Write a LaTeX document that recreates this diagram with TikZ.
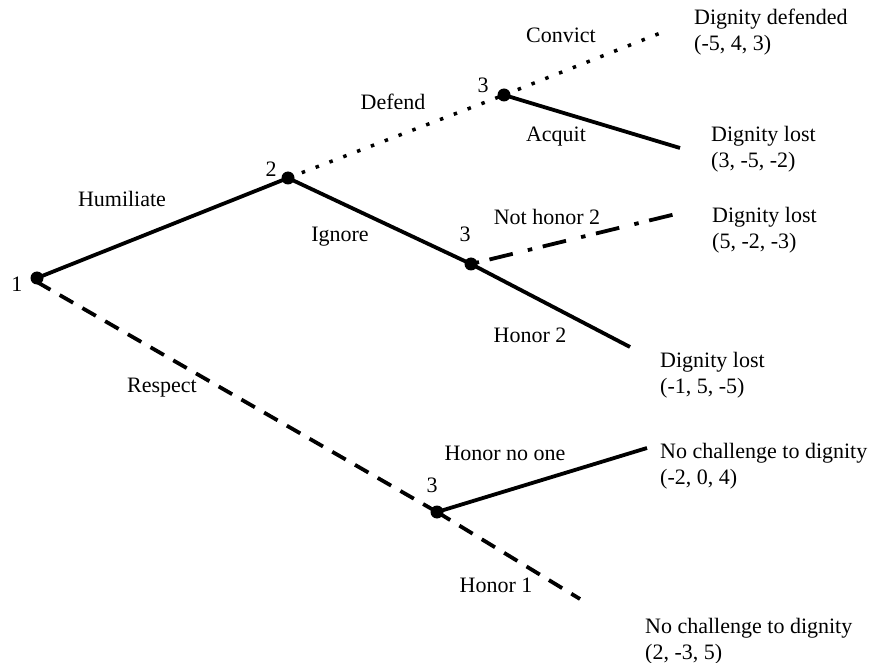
\documentclass[tikz,border=0pt]{standalone}
\usepackage{fontspec}
\setmainfont{Liberation Serif}
\newcommand\twoline[2]{\begin{tabular}[t]{@{}l@{}}#1\\#2\end{tabular}}
\begin{document}
\begin{tikzpicture}[x=1pt,y=-1pt,
  lbl/.style={font=\fontsize{22}{26}\selectfont, inner sep=0pt, anchor=base},
  term/.style={font=\fontsize{22}{26}\selectfont, inner sep=0pt, anchor=base west},
  dotnode/.style={circle,fill=black,inner sep=0pt,minimum size=13pt},
  solidedge/.style={line width=3.8pt},
  dottededge/.style={line width=3.5pt, dash pattern=on 3.5pt off 11.3pt},
  dashededge/.style={line width=3.8pt, dash pattern=on 15.5pt off 10.7pt},
  dashdotedge/.style={line width=3.8pt, dash pattern=on 24pt off 15.5pt on 4.5pt off 10.8pt, dash phase=35.8pt}]
\useasboundingbox (0,0) rectangle (871,663);
% decision nodes
\node[dotnode] (n1) at (37,278) {};
\node[dotnode] (n2) at (288,178) {};
\node[dotnode] (n3a) at (504,95) {};
\node[dotnode] (n3b) at (471,264) {};
\node[dotnode] (n3c) at (437,512) {};
% free ends
\coordinate (eConvict) at (663,32);
\coordinate (eAcquit) at (680,148);
\coordinate (eNotHonor) at (680,213);
\coordinate (eHonor2) at (630,347);
\coordinate (eNoOne) at (647,448);
\coordinate (eHonor1) at (580,599);
% edges
\draw[solidedge] (n1.center) -- (n2.center);
\draw[dottededge] (n2.center) -- (n3a.center);
\draw[dottededge] (n3a.center) -- (eConvict);
\draw[solidedge] (n3a.center) -- (eAcquit);
\draw[solidedge] (n2.center) -- (n3b.center) -- (eHonor2);
\draw[dashdotedge] (n3b.center) -- (eNotHonor);
\draw[dashededge] ([yshift=-4pt]n1.center) -- (n3c.center);
\draw[solidedge] (n3c.center) -- (eNoOne);
\draw[dashededge] (n3c.center) -- (eHonor1);
% player labels
\node[lbl] (l1) at (17,292) {1};
\node[lbl] (l2) at (271,177) {2};
\node[lbl] (l3a) at (483,93) {3};
\node[lbl] (l3b) at (465,242) {3};
\node[lbl] (l3c) at (432,492) {3};
% action labels
\node[lbl] (tHum) at (122,207) {Humiliate};
\node[lbl] (tRes) at (162,392) {Respect};
\node[lbl] (tDef) at (393,110) {Defend};
\node[lbl] (tCon) at (561,43) {Convict};
\node[lbl] (tAcq) at (556,142) {Acquit};
\node[lbl] (tIgn) at (340,242) {Ignore};
\node[lbl] (tNH2) at (547,225) {Not honor 2};
\node[lbl] (tH2) at (530,342) {Honor 2};
\node[lbl] (tHNO) at (505,460) {Honor no one};
\node[lbl] (tH1) at (496,592) {Honor 1};
% outcomes
\node[term] (o1) at (694,25) {\twoline{Dignity defended}{(-5, 4, 3)}};
\node[term] (o2) at (711,142) {\twoline{Dignity lost}{(3, -5, -2)}};
\node[term] (o3) at (712,223) {\twoline{Dignity lost}{(5, -2, -3)}};
\node[term] (o4) at (660,367) {\twoline{Dignity lost}{(-1, 5, -5)}};
\node[term] (o5) at (660,458) {\twoline{No challenge to dignity}{(-2, 0, 4)}};
\node[term] (o6) at (645,633) {\twoline{No challenge to dignity}{(2, -3, 5)}};
\end{tikzpicture}
\end{document}
